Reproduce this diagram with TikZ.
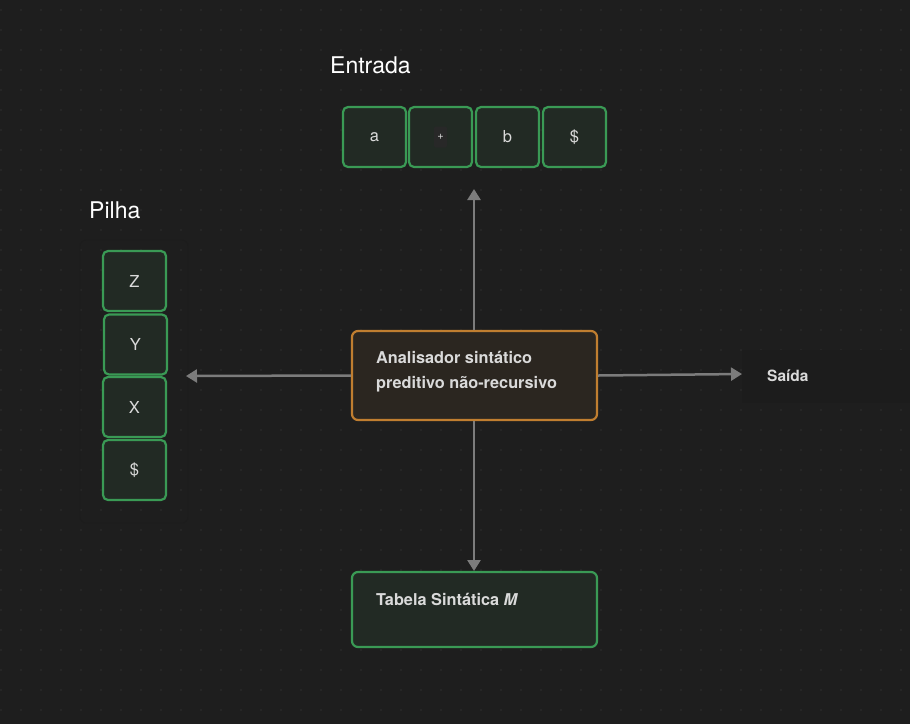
\documentclass[tikz,border=0pt]{standalone}
\usepackage{fontspec}
\setmainfont{TeX Gyre Heros}
\usetikzlibrary{arrows.meta}
\definecolor{bg}{HTML}{1E1E1E}
\definecolor{dotc}{HTML}{303030}
\definecolor{grn}{HTML}{3A9A55}
\definecolor{grnfill}{HTML}{222A24}
\definecolor{org}{HTML}{C07E30}
\definecolor{orgfill}{HTML}{2B2620}
\definecolor{txt}{HTML}{DADADA}
\definecolor{arr}{HTML}{7C7C7C}
\definecolor{frame}{HTML}{1C1C1C}
\definecolor{frameline}{HTML}{1C1C1C}
\definecolor{codebg}{HTML}{282828}
\tikzset{
  cell/.style={draw=grn, fill=grnfill, line width=2.2pt, rounded corners=5pt,
    minimum width=63pt, minimum height=60pt, inner sep=0pt, text=txt, font=\fontsize{16.5}{18}\selectfont},
  bigbox/.style={draw=grn, fill=grnfill, line width=2.2pt, rounded corners=6pt,
    minimum width=245pt, inner sep=0pt},
  title/.style={text=white, font=\fontsize{23}{26}\selectfont, anchor=base west, inner sep=0pt},
  lbl/.style={text=txt, font=\fontsize{16.3}{25}\selectfont\bfseries, anchor=north west, inner sep=0pt, align=left},
  conn/.style={draw=arr, line width=2.5pt, -{Triangle[length=11pt,width=13pt]}}
}
\begin{document}
\begin{tikzpicture}[x=1pt,y=-1pt]
\fill[bg] (0,0) rectangle (910,724);
\useasboundingbox (0,0) rectangle (910,724);
\foreach \i in {0,...,45}{\foreach \j in {0,...,36}{
  \fill[dotc] (1+20*\i,10+20*\j) circle (0.8pt);}}
% faint frames
\fill[frame] (742,350) rectangle (910,403);
\draw[frameline, line width=0.8pt, rounded corners=6pt] (80,240) rectangle (188,523);
% titles
\node[title] (entrada) at (330,73) {Entrada};
\node[title] (pilha) at (89,218) {Pilha};
% input cells
\node[cell] (ca) at (374.5,137) {a};
\node[cell] (cp) at (440.5,137) {};
\node[fill=codebg, rounded corners=2pt, inner sep=0pt, minimum width=13pt, minimum height=21pt, text=txt, font=\fontsize{11}{11}\selectfont] (plus) at (cp) {+};
\node[cell] (cb) at (507.5,137) {b};
\node[cell] (cd) at (574.5,137) {\$};
% stack cells
\node[cell] (sz) at (134.5,281) {Z};
\node[cell] (sy) at (135.5,344.5) {Y};
\node[cell] (sx) at (134.5,407) {X};
\node[cell] (sd) at (134.5,470) {\$};
% parser
\node[bigbox, draw=org, fill=orgfill, minimum height=89pt] (parser) at (474.5,375.5) {};
\node[lbl] (ptxt) at (376,351) {Analisador sintático\\preditivo não-recursivo};
% table
\node[bigbox, minimum height=75pt] (tabela) at (474.5,609.5) {};
\node[lbl] (ttxt) at (376,593) {Tabela Sintática \textit{M}};
% output
\coordinate (out) at (742,374);
\node[text=txt, font=\fontsize{15.5}{16}\selectfont\bfseries, anchor=west, inner sep=0pt] (saida) at (767,376) {Saída};
\coordinate (up) at (474,189);
\coordinate (left) at (186,376);
\coordinate (down) at (474,571);
\draw[conn] (parser.north -| up) -- (up);
\draw[conn] (parser.west) -- (left);
\draw[conn] (parser.east) -- (out);
\draw[conn] (parser.south -| down) -- (down);
\end{tikzpicture}
\end{document}
